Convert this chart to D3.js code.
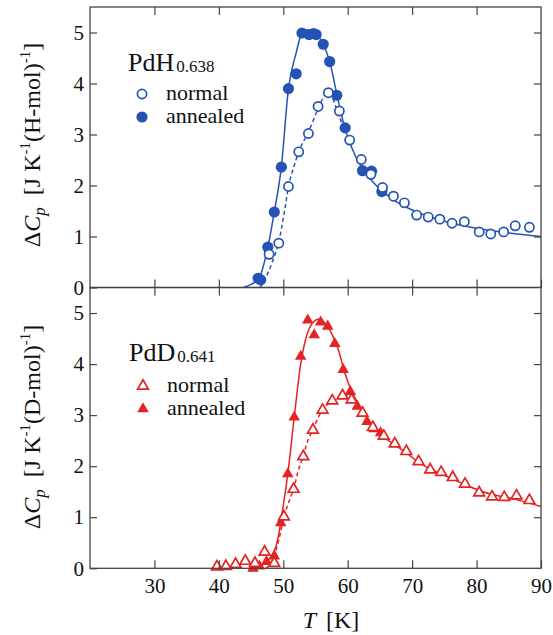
<!DOCTYPE html>
<html>
<head>
<meta charset="utf-8">
<script src="https://cdn.jsdelivr.net/npm/d3@7"></script>
<style>
  body { margin: 0; background: #fff; }
  text { font-family: "Liberation Serif", "Times New Roman", serif; fill: #111; }
</style>
</head>
<body>
<script>
// PdH0.638 -- open circles (normal), filled circles (annealed)
var hNormalT = [47.8, 49.3, 50.8, 52.4, 53.9, 55.4, 57.0, 58.7, 60.3, 62.1, 63.6, 65.4, 67.1, 68.8, 70.7, 72.5, 74.3, 76.2, 78.1, 80.4, 82.2, 84.2, 86.0, 88.2];
var hNormalV = [0.65, 0.87, 1.98, 2.66, 3.02, 3.55, 3.82, 3.46, 2.89, 2.51, 2.22, 1.96, 1.79, 1.66, 1.42, 1.38, 1.34, 1.26, 1.29, 1.09, 1.05, 1.09, 1.21, 1.18];
var hAnnealT = [46.1, 46.5, 47.6, 48.6, 49.7, 50.8, 52.0, 52.9, 54.0, 54.7, 55.1, 56.2, 57.2, 58.3, 59.6, 62.3, 63.7, 65.3];
var hAnnealV = [0.18, 0.15, 0.79, 1.48, 2.36, 3.90, 4.19, 4.99, 4.96, 4.98, 4.96, 4.77, 4.43, 3.77, 3.13, 2.29, 2.28, 1.88];
// guide curves
var hAnnealFitT = [43.8, 45.0, 46.3, 47.6, 48.6, 49.7, 50.8, 52.0, 52.9, 53.6, 54.5, 55.5, 56.2, 57.2, 58.3, 59.5, 60.5, 62.3, 63.7, 65.3, 67.0, 70.0, 75.0, 80.0, 85.0, 90.0];
var hAnnealFitV = [0, 0.06, 0.2, 0.79, 1.48, 2.36, 3.9, 4.6, 5.0, 5.05, 5.02, 4.92, 4.77, 4.43, 3.8, 3.15, 2.78, 2.32, 2.1, 1.9, 1.73, 1.52, 1.3, 1.16, 1.07, 1.0];
var hNormalFitT = [46.4, 47.3, 48.3, 49.3, 50.2, 50.8, 51.6, 52.4, 53.9, 55.4, 56.5, 57.2, 58.0, 58.7, 59.4];
var hNormalFitV = [0, 0.2, 0.5, 0.9, 1.5, 1.98, 2.35, 2.66, 3.05, 3.5, 3.78, 3.82, 3.6, 3.35, 3.13];

// PdD0.641 -- open triangles (normal), filled triangles (annealed)
var dNormalT = [39.7, 41.1, 42.6, 44.1, 45.6, 47.1, 48.6, 50.1, 51.6, 53.1, 54.6, 56.1, 57.6, 59.2, 60.6, 62.3, 63.9, 65.6, 67.3, 69.1, 71.0, 72.8, 74.5, 76.3, 78.2, 80.4, 82.4, 84.3, 86.2, 88.2];
var dNormalV = [0.03, 0.04, 0.08, 0.14, 0.10, 0.32, 0.10, 1.01, 1.55, 2.19, 2.71, 3.10, 3.28, 3.38, 3.30, 3.04, 2.76, 2.59, 2.44, 2.29, 2.09, 1.93, 1.88, 1.78, 1.65, 1.48, 1.40, 1.39, 1.42, 1.33];
var dAnnealT = [45.3, 46.3, 47.4, 48.6, 49.6, 50.7, 51.7, 52.7, 53.8, 54.8, 55.8, 56.9, 58.0, 59.3, 60.4, 61.5, 63.0, 64.1, 65.1];
var dAnnealV = [0.0, 0.04, 0.13, 0.24, 0.89, 1.85, 2.96, 4.15, 4.86, 4.57, 4.82, 4.74, 4.40, 3.89, 3.46, 3.17, 2.87, 2.73, 2.65];
var dAnnealFitT = [45.2, 46.5, 47.5, 48.5, 49.2, 49.6, 50.2, 50.7, 51.7, 52.7, 53.5, 54.5, 55.5, 56.5, 57.5, 58.5, 59.5, 60.5, 61.5, 62.5, 63.5, 64.5, 65.6, 67.3, 69.0, 71.0, 73.0, 75.0, 78.0, 80.5, 83.0, 86.0, 90.0];
var dAnnealFitV = [0, 0.05, 0.15, 0.3, 0.6, 0.9, 1.4, 1.85, 2.96, 4.0, 4.5, 4.8, 4.88, 4.8, 4.6, 4.3, 3.85, 3.5, 3.25, 3.05, 2.85, 2.7, 2.57, 2.42, 2.27, 2.08, 1.93, 1.82, 1.65, 1.52, 1.43, 1.35, 1.21];
var dNormalFitT = [47.3, 48.3, 49.2, 50.1, 51.0, 51.6, 52.3, 53.1, 53.8, 54.6, 55.4, 56.1, 57.6, 59.2, 60.3, 61.3];
var dNormalFitV = [0, 0.15, 0.5, 1.0, 1.35, 1.55, 1.9, 2.2, 2.5, 2.71, 2.95, 3.1, 3.28, 3.38, 3.4, 3.3];

var xTicks = [30, 40, 50, 60, 70, 80, 90];
var yTicks = [0, 1, 2, 3, 4, 5];

var w = 553, h = 635;
var blue = "#2553b3", red = "#e62222", axisColor = "#444";

var svg = d3.select("body").append("svg")
    .attr("width", w)
    .attr("height", h);

var x = d3.scaleLinear().domain([20, 90]).range([90, 541]);
var yTop = d3.scaleLinear().domain([0, 5.5]).range([287.5, 7]);
var yBot = d3.scaleLinear().domain([0, 5.5]).range([568.3, 287.5]);

function zip(ts, vs) { return ts.map(function(t, i) { return [t, vs[i]]; }); }

function drawPanel(y, opt) {
    var g = svg.append("g");
    var line = d3.line()
        .x(function(d) { return x(d[0]); })
        .y(function(d) { return y(d[1]); })
        .curve(d3.curveMonotoneX);

    g.append("path")
        .datum(zip(opt.annealFitT, opt.annealFitV))
        .attr("fill", "none")
        .attr("stroke", opt.color)
        .attr("stroke-width", 1.5)
        .attr("d", line);

    g.append("path")
        .datum(zip(opt.normalFitT, opt.normalFitV))
        .attr("fill", "none")
        .attr("stroke", opt.color)
        .attr("stroke-width", 1.5)
        .attr("stroke-dasharray", "4,3")
        .attr("d", line);

    g.selectAll(".anneal")
        .data(zip(opt.annealT, opt.annealV))
        .enter().append("path")
        .attr("transform", function(d) { return "translate(" + x(d[0]) + "," + y(d[1]) + ")"; })
        .attr("d", opt.filledSymbol)
        .attr("fill", opt.color);

    g.selectAll(".normal")
        .data(zip(opt.normalT, opt.normalV))
        .enter().append("path")
        .attr("transform", function(d) { return "translate(" + x(d[0]) + "," + y(d[1]) + ")"; })
        .attr("d", opt.openSymbol)
        .attr("fill", "#fff")
        .attr("stroke", opt.color)
        .attr("stroke-width", 1.7);

    // axes with inward ticks on all four sides
    var top = y.range()[1], bottom = y.range()[0];
    g.append("g").attr("transform", "translate(90,0)")
        .call(d3.axisLeft(y).tickValues(yTicks).tickSize(-7).tickPadding(6).tickFormat(d3.format("d")));
    g.append("g").attr("transform", "translate(541,0)")
        .call(d3.axisRight(y).tickValues(yTicks.slice(1)).tickSize(-7).tickFormat(""));
    g.append("g").attr("transform", "translate(0," + top + ")")
        .call(d3.axisTop(x).tickValues(xTicks.slice(0, -1)).tickSize(-8).tickFormat(""));
    var bot = g.append("g").attr("transform", "translate(0," + bottom + ")")
        .call(d3.axisBottom(x).tickValues(xTicks).tickSize(-8).tickPadding(10)
              .tickFormat(opt.showX ? d3.format("d") : ""));

    g.selectAll(".domain").remove();
    g.selectAll(".tick line").attr("stroke", axisColor).attr("stroke-width", 1.2);
    g.selectAll(".tick text")
        .style("font-family", "'Liberation Serif', serif")
        .style("font-size", "21px")
        .attr("fill", "#111");
    bot.selectAll(".tick text").attr("dy", "0.71em");

    g.append("rect")
        .attr("x", 90).attr("y", top)
        .attr("width", 451).attr("height", bottom - top)
        .attr("fill", "none")
        .attr("stroke", axisColor)
        .attr("stroke-width", 1.3);

    // y title
    var yt = g.append("text")
        .attr("transform", "translate(40," + opt.titleY + ") rotate(-90)")
        .attr("text-anchor", "middle")
        .style("font-size", "24px");
    yt.append("tspan").text("\u0394");
    yt.append("tspan").style("font-style", "italic").text("C");
    yt.append("tspan").style("font-style", "italic").style("font-size", "17px").attr("dy", 5).text("p");
    yt.append("tspan").attr("dy", -5).attr("dx", 12).text("[J K");
    yt.append("tspan").style("font-size", "15px").attr("dy", -10).text("-1");
    yt.append("tspan").attr("dy", 10).text("(" + opt.unit + ")");
    yt.append("tspan").style("font-size", "15px").attr("dy", -10).text("-1");
    yt.append("tspan").attr("dy", 10).text("]");

    // legend
    var lg = g.append("g");
    var name = lg.append("text")
        .attr("x", opt.legX).attr("y", opt.legY)
        .style("font-size", "26px");
    name.append("tspan").text(opt.name);
    name.append("tspan").attr("dx", 2).attr("dy", 1).style("font-size", "17px").text(opt.sub);

    lg.append("path")
        .attr("transform", "translate(" + (opt.legX + 14) + "," + (opt.legY + opt.row1 - 6) + ")")
        .attr("d", opt.openSymbol)
        .attr("fill", "#fff").attr("stroke", opt.color).attr("stroke-width", 1.7);
    lg.append("text")
        .attr("x", opt.legX + 38).attr("y", opt.legY + opt.row1)
        .style("font-size", "22px").text("normal");
    lg.append("path")
        .attr("transform", "translate(" + (opt.legX + 14) + "," + (opt.legY + opt.row1 + 23 - 6) + ")")
        .attr("d", opt.filledSymbol)
        .attr("fill", opt.color);
    lg.append("text")
        .attr("x", opt.legX + 38).attr("y", opt.legY + opt.row1 + 23)
        .style("font-size", "22px").text("annealed");
}

var circleOpen = d3.symbol().type(d3.symbolCircle).size(Math.PI * 4.6 * 4.6)();
var circleFilled = d3.symbol().type(d3.symbolCircle).size(Math.PI * 5.6 * 5.6)();
var triOpen = d3.symbol().type(d3.symbolTriangle).size(50)();
var triFilled = d3.symbol().type(d3.symbolTriangle).size(58)();

drawPanel(yTop, {
    color: blue, name: "PdH", sub: "0.638", unit: "H-mol", titleY: 145,
    legX: 128, legY: 71, row1: 29, showX: false,
    normalT: hNormalT, normalV: hNormalV, annealT: hAnnealT, annealV: hAnnealV,
    normalFitT: hNormalFitT, normalFitV: hNormalFitV, annealFitT: hAnnealFitT, annealFitV: hAnnealFitV,
    openSymbol: circleOpen, filledSymbol: circleFilled
});

drawPanel(yBot, {
    color: red, name: "PdD", sub: "0.641", unit: "D-mol", titleY: 427,
    legX: 129, legY: 361, row1: 31, showX: true,
    normalT: dNormalT, normalV: dNormalV, annealT: dAnnealT, annealV: dAnnealV,
    normalFitT: dNormalFitT, normalFitV: dNormalFitV, annealFitT: dAnnealFitT, annealFitV: dAnnealFitV,
    openSymbol: triOpen, filledSymbol: triFilled
});

// x title
var xt = svg.append("text")
    .attr("x", 331).attr("y", 628)
    .attr("text-anchor", "middle")
    .style("font-size", "24px");
xt.append("tspan").style("font-style", "italic").text("T");
xt.append("tspan").attr("dx", 10).text("[K]");
</script>
</body>
</html>
